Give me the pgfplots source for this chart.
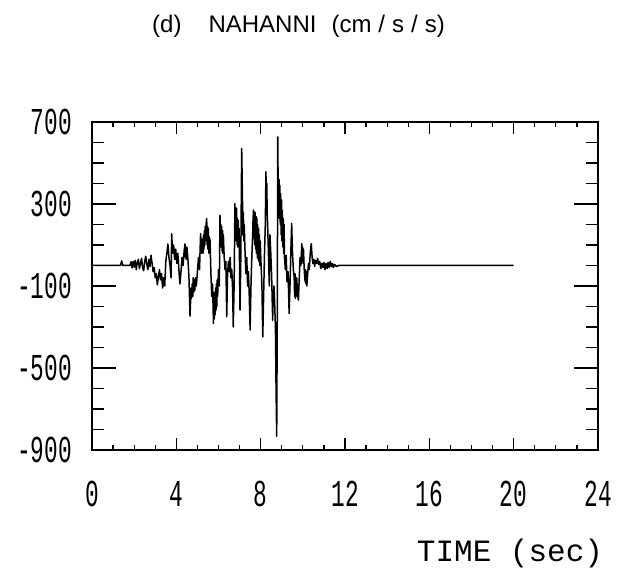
\documentclass[border=0pt]{standalone}
\usepackage{fontspec}
\setmainfont{Liberation Sans}
\newfontfamily\tickfont[FakeStretch=0.6]{Liberation Mono}
\newfontfamily\labfont{Liberation Mono}
\usepackage{pgfplots}
\pgfplotsset{compat=1.18}
\usepackage{pgfplotstable}
\pgfplotstableread{
t a
0 0
1.35 0
1.41 22
1.46 0
1.80 0
1.85 18
1.90 -12
1.95 20
2.00 -8
2.05 25
2.10 -20
2.15 15
2.20 30
2.25 -15
2.30 10
2.35 35
2.40 -10
2.45 -25
2.50 20
2.55 45
2.60 5
2.65 -20
2.70 30
2.75 -5
2.80 50
2.85 10
2.90 -30
2.95 -10
3.00 -60
3.05 -40
3.10 -95
3.15 -55
3.20 -20
3.25 -70
3.30 -40
3.35 -110
3.40 -60
3.45 -100
3.50 20
3.55 60
3.60 105
3.65 40
3.70 0
3.75 -60
3.78 155
3.82 60
3.87 100
3.92 30
3.97 80
4.02 10
4.07 60
4.12 -20
4.17 -90
4.22 -30
4.27 40
4.32 0
4.37 70
4.41 105
4.43 40
4.45 90
4.47 30
4.50 90
4.55 30
4.60 -60
4.65 -247
4.70 -110
4.72 -160
4.75 -90
4.78 -150
4.80 -60
4.83 -130
4.85 -70
4.88 -120
4.90 -60
4.95 -100
5.00 -30
5.05 40
5.10 -20
5.15 156
5.20 60
5.25 130
5.27 60
5.29 150
5.31 80
5.33 170
5.35 100
5.37 190
5.39 120
5.41 200
5.44 229
5.46 100
5.48 190
5.50 80
5.52 180
5.54 60
5.56 140
5.60 120
5.64 -40
5.68 -150
5.72 -90
5.76 -283
5.78 -150
5.80 -260
5.82 -130
5.84 -240
5.86 -110
5.88 -220
5.90 -90
5.92 -200
5.94 -70
5.96 -150
6.00 -20
6.04 -100
6.07 245
6.09 110
6.11 200
6.13 90
6.15 190
6.17 70
6.19 170
6.21 60
6.23 150
6.27 40
6.31 -20
6.35 20
6.39 -250
6.43 -40
6.47 20
6.51 -30
6.55 40
6.59 -60
6.63 -20
6.67 -120
6.70 -300
6.74 -100
6.78 302
6.80 150
6.82 250
6.84 120
6.86 280
6.88 100
6.90 230
6.92 90
6.94 220
6.96 120
6.98 180
7.02 -218
7.06 50
7.10 571
7.14 300
7.16 150
7.18 260
7.20 120
7.22 200
7.26 60
7.30 -40
7.34 40
7.38 -100
7.42 -30
7.46 -150
7.50 -315
7.54 -100
7.58 40
7.62 150
7.64 230
7.66 270
7.68 130
7.70 250
7.72 100
7.74 260
7.76 80
7.78 240
7.80 60
7.82 230
7.84 40
7.86 200
7.88 30
7.90 180
7.92 20
7.94 150
7.96 0
7.98 120
8.02 0
8.06 -100
8.10 -348
8.14 -150
8.18 50
8.22 200
8.25 457
8.27 300
8.29 400
8.31 250
8.33 200
8.37 50
8.41 -100
8.44 150
8.48 60
8.52 -50
8.57 -267
8.59 -120
8.61 -200
8.63 -100
8.65 -140
8.70 -300
8.73 -600
8.76 -833
8.79 -200
8.81 628
8.83 380
8.85 250
8.87 420
8.89 230
8.91 390
8.93 200
8.95 350
8.97 150
8.99 320
9.01 120
9.03 270
9.05 90
9.07 230
9.09 60
9.11 200
9.13 40
9.17 -20
9.21 50
9.25 -80
9.30 -30
9.35 -234
9.39 -100
9.43 60
9.47 205
9.51 60
9.55 -20
9.59 -60
9.61 -150
9.63 -40
9.65 -160
9.67 -60
9.69 -150
9.71 -60
9.75 -140
9.79 -169
9.83 -60
9.87 40
9.91 0
9.95 107
9.97 20
9.99 90
10.01 10
10.03 80
10.07 -30
10.11 -80
10.13 -20
10.15 -90
10.17 -30
10.19 -100
10.23 -40
10.27 10
10.31 -20
10.35 60
10.40 107
10.44 40
10.48 10
10.52 30
10.56 -5
10.60 25
10.65 10
10.70 35
10.75 5
10.80 20
10.85 -15
10.90 10
10.95 -10
11.00 15
11.05 -20
11.10 10
11.15 -15
11.20 15
11.25 -10
11.30 20
11.35 -5
11.40 10
11.45 -10
11.50 5
11.60 -5
11.70 0
20 0
}\nahanni
\begin{document}
\begin{tikzpicture}
\useasboundingbox (0pt,0pt) rectangle (621pt,571pt);
\begin{axis}[at={(92pt,121pt)}, anchor=south west,
  width=506pt, height=328pt, scale only axis,
  xmin=0, xmax=24, ymin=-900, ymax=700,
  xtick={0,4,8,12,16,20,24}, xticklabels={0,4,8,12,16,20,24},
  minor x tick num=3, ytick=\empty,
  major tick length=12pt, minor tick length=5pt,
  tick align=inside,
  axis line style={line width=1.6pt},
  every tick/.style={black, line width=1.3pt},
  xticklabel style={font=\tickfont\fontsize{38}{38}\selectfont, anchor=center, inner sep=0pt, yshift=-44pt},
  ]
\addplot[black, line width=1.5pt, line join=round] table[x=t, y=a] {\nahanni};
\end{axis}
\begin{axis}[at={(92pt,121pt)}, anchor=south west,
  width=506pt, height=328pt, scale only axis,
  xmin=0, xmax=24, ymin=-900, ymax=700,
  xtick=\empty,
  ytick={-900,-500,-100,300,700},
  yticklabels={-900,-500,-100,300,700},
  minor y tick num=3,
  major tick length=24pt, minor tick length=12pt,
  tick align=inside,
  axis line style={line width=1.6pt},
  every tick/.style={black, line width=1.3pt},
  yticklabel style={font=\tickfont\fontsize{38}{38}\selectfont, anchor=east, inner sep=0pt, xshift=-20pt},
  ]
\end{axis}
\node[anchor=base west, inner sep=0pt, font=\fontsize{24}{24}\selectfont] at (152pt,538pt)
  {(d)\hspace{27pt}NAHANNI\hspace{15pt}(cm\hspace{7pt}/\hspace{7pt}s\hspace{7pt}/\hspace{7pt}s)};
\node[anchor=base, inner sep=0pt, font=\labfont\fontsize{31}{31}\selectfont] at (510pt,10pt) {TIME (sec)};
\end{tikzpicture}
\end{document}
